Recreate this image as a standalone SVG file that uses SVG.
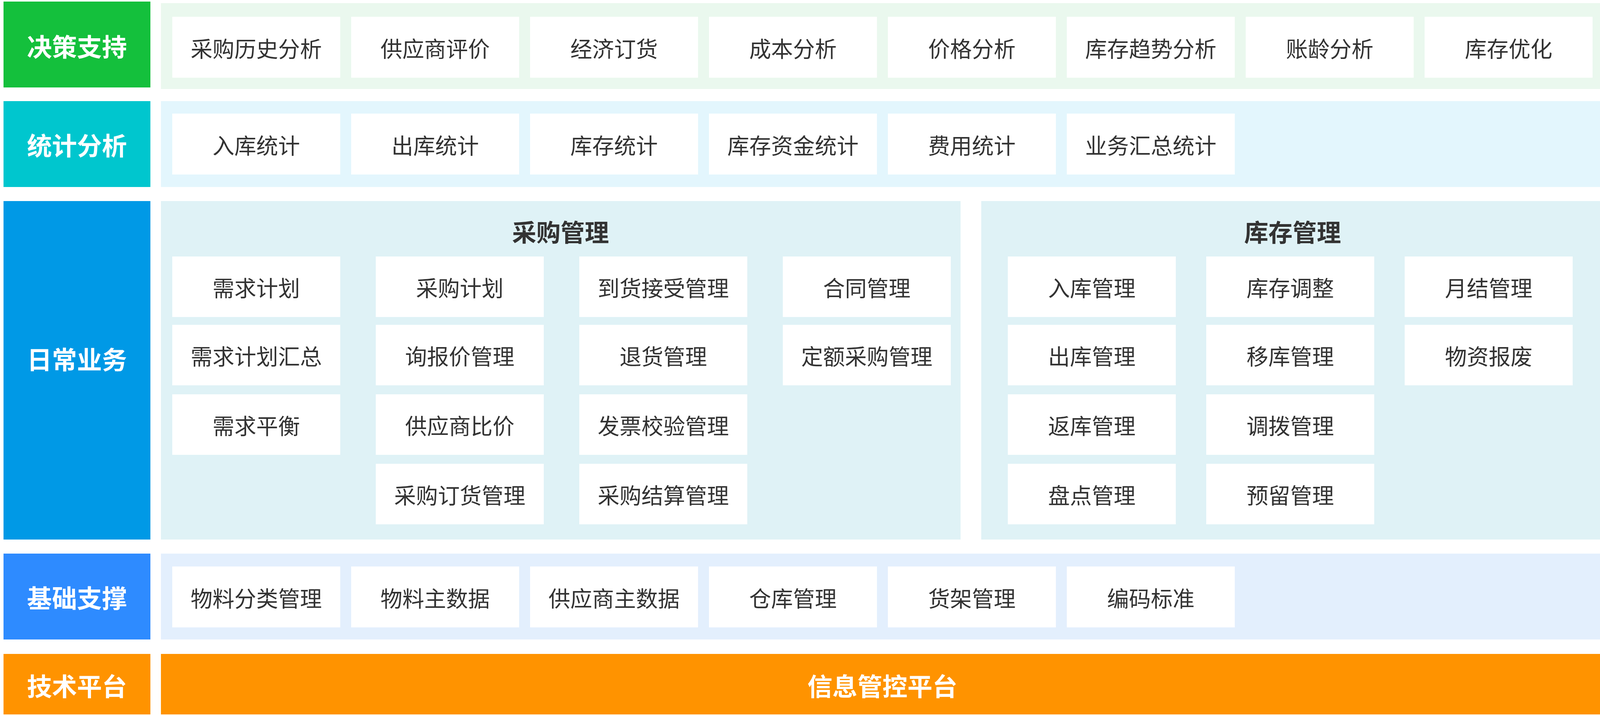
<svg xmlns="http://www.w3.org/2000/svg" width="4121" height="1834" viewBox="0 0 4121 1834">
<style>
text{font-family:"Noto Sans CJK SC","Noto Sans",sans-serif;text-anchor:middle;dominant-baseline:central}
.lbl{font-size:64px;font-weight:700;fill:#ffffff}
.nt{font-size:56px;fill:#333333}
.ttl{font-size:62px;font-weight:700;fill:#333333}
.nd{fill:#ffffff}
.plat{font-size:64px;font-weight:700;fill:#ffffff}
</style>
<rect width="4121" height="1834" fill="#ffffff"/>

<g id="layer-decision">
<rect x="9" y="4" width="376" height="220" fill="#14C03C"/>
<text class="lbl" x="197" y="116">决策支持</text>
<rect x="412" y="8" width="3694" height="220" fill="#EAF8EE"/>
</g>
<g id="decision-nodes">
<g id="n-cgls"><rect class="nd" x="441" y="43" width="430" height="156"/><text class="nt" x="656" y="121">采购历史分析</text></g>
<g id="n-gyspj"><rect class="nd" x="899" y="43" width="430" height="156"/><text class="nt" x="1114" y="121">供应商评价</text></g>
<g id="n-jjdh"><rect class="nd" x="1357" y="43" width="430" height="156"/><text class="nt" x="1572" y="121">经济订货</text></g>
<g id="n-cbfx"><rect class="nd" x="1815" y="43" width="430" height="156"/><text class="nt" x="2030" y="121">成本分析</text></g>
<g id="n-jgfx"><rect class="nd" x="2273" y="43" width="430" height="156"/><text class="nt" x="2488" y="121">价格分析</text></g>
<g id="n-kcqs"><rect class="nd" x="2731" y="43" width="430" height="156"/><text class="nt" x="2946" y="121">库存趋势分析</text></g>
<g id="n-zlfx"><rect class="nd" x="3189" y="43" width="430" height="156"/><text class="nt" x="3404" y="121">账龄分析</text></g>
<g id="n-kcyh"><rect class="nd" x="3647" y="43" width="430" height="156"/><text class="nt" x="3862" y="121">库存优化</text></g>
</g>

<g id="layer-stats">
<rect x="9" y="259" width="376" height="220" fill="#00C6CE"/>
<text class="lbl" x="197" y="369">统计分析</text>
<rect x="412" y="259" width="3694" height="220" fill="#E3F6FD"/>
</g>
<g id="stats-nodes">
<g id="n-rktj"><rect class="nd" x="441" y="291" width="430" height="156"/><text class="nt" x="656" y="369">入库统计</text></g>
<g id="n-cktj"><rect class="nd" x="899" y="291" width="430" height="156"/><text class="nt" x="1114" y="369">出库统计</text></g>
<g id="n-kctj"><rect class="nd" x="1357" y="291" width="430" height="156"/><text class="nt" x="1572" y="369">库存统计</text></g>
<g id="n-kczj"><rect class="nd" x="1815" y="291" width="430" height="156"/><text class="nt" x="2030" y="369">库存资金统计</text></g>
<g id="n-fytj"><rect class="nd" x="2273" y="291" width="430" height="156"/><text class="nt" x="2488" y="369">费用统计</text></g>
<g id="n-ywhz"><rect class="nd" x="2731" y="291" width="430" height="156"/><text class="nt" x="2946" y="369">业务汇总统计</text></g>
</g>

<g id="layer-daily">
<rect x="9" y="515" width="376" height="867" fill="#0099E6"/>
<text class="lbl" x="197" y="917">日常业务</text>
</g>
<g id="group-purchase">
<rect x="412" y="515" width="2047" height="867" fill="#DFF2F6"/>
<text class="ttl" x="1435" y="592">采购管理</text>
<g id="n-xqjh"><rect class="nd" x="441" y="657" width="430" height="155"/><text class="nt" x="656" y="734">需求计划</text></g>
<g id="n-xqhz"><rect class="nd" x="441" y="832" width="430" height="155"/><text class="nt" x="656" y="909">需求计划汇总</text></g>
<g id="n-xqph"><rect class="nd" x="441" y="1010" width="430" height="155"/><text class="nt" x="656" y="1087">需求平衡</text></g>
<g id="n-cgjh"><rect class="nd" x="962" y="657" width="430" height="155"/><text class="nt" x="1177" y="734">采购计划</text></g>
<g id="n-xbj"><rect class="nd" x="962" y="832" width="430" height="155"/><text class="nt" x="1177" y="909">询报价管理</text></g>
<g id="n-gysbj"><rect class="nd" x="962" y="1010" width="430" height="155"/><text class="nt" x="1177" y="1087">供应商比价</text></g>
<g id="n-cgdh"><rect class="nd" x="962" y="1188" width="430" height="155"/><text class="nt" x="1177" y="1265">采购订货管理</text></g>
<g id="n-dhjs"><rect class="nd" x="1483" y="657" width="430" height="155"/><text class="nt" x="1698" y="734">到货接受管理</text></g>
<g id="n-thgl"><rect class="nd" x="1483" y="832" width="430" height="155"/><text class="nt" x="1698" y="909">退货管理</text></g>
<g id="n-fpjy"><rect class="nd" x="1483" y="1010" width="430" height="155"/><text class="nt" x="1698" y="1087">发票校验管理</text></g>
<g id="n-cgjs"><rect class="nd" x="1483" y="1188" width="430" height="155"/><text class="nt" x="1698" y="1265">采购结算管理</text></g>
<g id="n-htgl"><rect class="nd" x="2004" y="657" width="430" height="155"/><text class="nt" x="2219" y="734">合同管理</text></g>
<g id="n-decg"><rect class="nd" x="2004" y="832" width="430" height="155"/><text class="nt" x="2219" y="909">定额采购管理</text></g>
</g>
<g id="group-inventory">
<rect x="2512" y="515" width="1594" height="867" fill="#DFF2F6"/>
<text class="ttl" x="3309" y="592">库存管理</text>
<g id="n-rkgl"><rect class="nd" x="2580" y="657" width="430" height="155"/><text class="nt" x="2795" y="734">入库管理</text></g>
<g id="n-ckgl"><rect class="nd" x="2580" y="832" width="430" height="155"/><text class="nt" x="2795" y="909">出库管理</text></g>
<g id="n-fkgl"><rect class="nd" x="2580" y="1010" width="430" height="155"/><text class="nt" x="2795" y="1087">返库管理</text></g>
<g id="n-pdgl"><rect class="nd" x="2580" y="1188" width="430" height="155"/><text class="nt" x="2795" y="1265">盘点管理</text></g>
<g id="n-kctz"><rect class="nd" x="3088" y="657" width="430" height="155"/><text class="nt" x="3303" y="734">库存调整</text></g>
<g id="n-ykgl"><rect class="nd" x="3088" y="832" width="430" height="155"/><text class="nt" x="3303" y="909">移库管理</text></g>
<g id="n-dbgl"><rect class="nd" x="3088" y="1010" width="430" height="155"/><text class="nt" x="3303" y="1087">调拨管理</text></g>
<g id="n-ylgl"><rect class="nd" x="3088" y="1188" width="430" height="155"/><text class="nt" x="3303" y="1265">预留管理</text></g>
<g id="n-yjgl"><rect class="nd" x="3596" y="657" width="430" height="155"/><text class="nt" x="3811" y="734">月结管理</text></g>
<g id="n-wzbf"><rect class="nd" x="3596" y="832" width="430" height="155"/><text class="nt" x="3811" y="909">物资报废</text></g>
</g>

<g id="layer-basic">
<rect x="9" y="1418" width="376" height="220" fill="#2E8BFF"/>
<text class="lbl" x="197" y="1528">基础支撑</text>
<rect x="412" y="1418" width="3694" height="220" fill="#E3EFFD"/>
</g>
<g id="basic-nodes">
<g id="n-wlfl"><rect class="nd" x="441" y="1451" width="430" height="156"/><text class="nt" x="656" y="1529">物料分类管理</text></g>
<g id="n-wlzsj"><rect class="nd" x="899" y="1451" width="430" height="156"/><text class="nt" x="1114" y="1529">物料主数据</text></g>
<g id="n-gyszsj"><rect class="nd" x="1357" y="1451" width="430" height="156"/><text class="nt" x="1572" y="1529">供应商主数据</text></g>
<g id="n-ckgl2"><rect class="nd" x="1815" y="1451" width="430" height="156"/><text class="nt" x="2030" y="1529">仓库管理</text></g>
<g id="n-hjgl"><rect class="nd" x="2273" y="1451" width="430" height="156"/><text class="nt" x="2488" y="1529">货架管理</text></g>
<g id="n-bmbz"><rect class="nd" x="2731" y="1451" width="430" height="156"/><text class="nt" x="2946" y="1529">编码标准</text></g>
</g>

<g id="layer-tech">
<rect x="9" y="1675" width="376" height="155" fill="#FF9300"/>
<text class="lbl" x="197" y="1754">技术平台</text>
</g>
<g id="n-platform">
<rect x="412" y="1675" width="3694" height="155" fill="#FF9300"/>
<text class="plat" x="2259" y="1754">信息管控平台</text>
</g>

<g id="connectors"></g>
</svg>
